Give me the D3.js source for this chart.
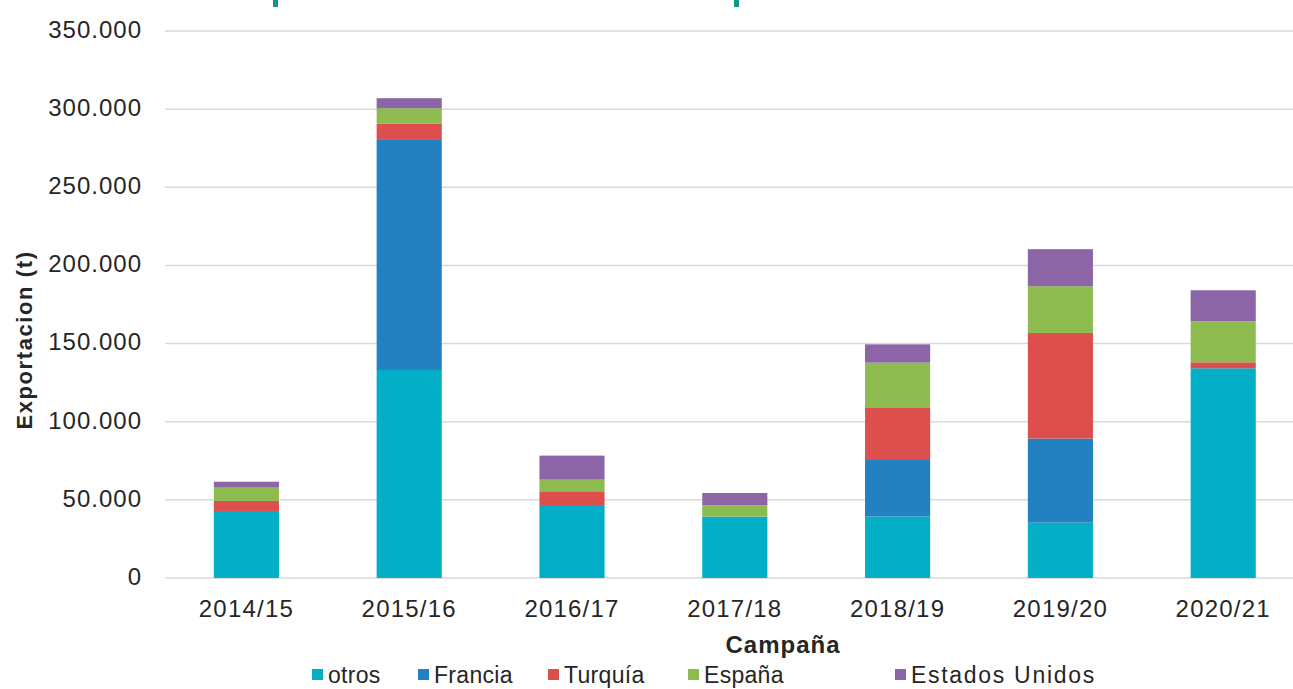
<!DOCTYPE html>
<html>
<head>
<meta charset="utf-8">
<script src="https://cdn.jsdelivr.net/npm/d3@7"></script>
<style>
  html, body { margin: 0; padding: 0; background: #fff; }
  svg { display: block; }
  text { font-family: "Liberation Sans", Arial, sans-serif; fill: #262626; }
</style>
</head>
<body>
<svg id="chart" width="1293" height="689"></svg>
<script>
const categories = ["2014/15", "2015/16", "2016/17", "2017/18", "2018/19", "2019/20", "2020/21"];
const seriesNames = ["otros", "Francia", "Turquía", "España", "Estados Unidos"];
const otros    = [42900, 133100, 46700, 39300, 39300, 35400, 134200];
const francia  = [0, 147700, 0, 0, 36200, 53800, 0];
const turquia  = [6400, 10000, 8800, 0, 33700, 67600, 3800];
const espana   = [8500, 9800, 7400, 7200, 28600, 29900, 26300];
const eeuu     = [3800, 6400, 15400, 7900, 11700, 23700, 19800];
const yTicks = [0, 50000, 100000, 150000, 200000, 250000, 300000, 350000];
const colors = ["#02AFC7", "#2481C1", "#DD4F4C", "#8DBB50", "#8B65A6"];

(function () {
const seriesValues = [otros, francia, turquia, espana, eeuu];
const rows = categories.map((c, i) => {
  const r = { cat: c };
  seriesNames.forEach((s, j) => r[s] = seriesValues[j][i]);
  return r;
});

const svg = d3.select("#chart");
const pLeft = 165, pRight = 1304.6, pTop = 31, pBottom = 578;
const FONT = "'Liberation Sans', Arial, sans-serif";

const x = d3.scaleBand().domain(categories).range([pLeft, pRight]).paddingInner(0.6).paddingOuter(0.3);
const y = d3.scaleLinear().domain([0, 350000]).range([pBottom, pTop]);

// decorative teal marks at top
[[273, 5], [734, 5]].forEach(([mx, w]) => {
  svg.append("rect").attr("x", mx).attr("y", 0).attr("width", w).attr("height", 7).attr("fill", "#139586");
});

// gridlines
svg.append("g").selectAll("line").data(yTicks).join("line")
  .attr("x1", pLeft).attr("x2", 1293)
  .attr("y1", d => y(d)).attr("y2", d => y(d))
  .attr("stroke", "#D9D9D9").attr("stroke-width", 1.5);

// y axis labels
const fmt = d => d === 0 ? "0" : d3.format(",")(d).replace(/,/g, ".");
const yAxis = d3.axisLeft(y).tickValues(yTicks).tickFormat(fmt).tickSize(0).tickPadding(0);
const yg = svg.append("g").attr("transform", `translate(142,-2)`).call(yAxis);
yg.select(".domain").remove();
yg.selectAll("text").attr("font-size", 24).attr("fill", "#262626")
  .style("font-family", FONT).attr("letter-spacing", 1).attr("dy", "0.35em");

// x axis labels
const xAxis = d3.axisBottom(x).tickSize(0).tickPadding(0);
const xg = svg.append("g").attr("transform", `translate(0,${pBottom})`).call(xAxis);
xg.select(".domain").remove();
xg.selectAll("text").attr("font-size", 24).attr("fill", "#262626").attr("y", 39).attr("dy", 0)
  .style("font-family", FONT).attr("letter-spacing", 1.2);

// stacked bars
const stacked = d3.stack().keys(seriesNames)(rows);
svg.append("g").selectAll("g").data(stacked).join("g")
  .attr("fill", (d, i) => colors[i])
  .selectAll("rect").data(d => d.filter(p => p[1] - p[0] > 0)).join("rect")
  .attr("x", d => x(d.data.cat))
  .attr("width", x.bandwidth())
  .attr("y", d => y(d[1]))
  .attr("height", d => y(d[0]) - y(d[1]));

// axis titles
svg.append("text").attr("x", 783).attr("y", 653).attr("text-anchor", "middle")
  .attr("font-size", 24).attr("font-weight", "bold").attr("letter-spacing", 1).text("Campaña");
svg.append("text").attr("transform", "translate(32,340) rotate(-90)").attr("text-anchor", "middle")
  .attr("font-size", 22).attr("font-weight", "bold").attr("letter-spacing", 1.6).text("Exportacion (t)");

// legend
const legendX = [312, 418, 548, 688, 895];
const legendSpacing = [0.3, 0.3, 0.3, 0.3, 1.7];
const lg = svg.append("g").selectAll("g").data(seriesNames).join("g")
  .attr("transform", (d, i) => `translate(${legendX[i]},669)`);
lg.append("rect").attr("width", 11).attr("height", 11).attr("fill", (d, i) => colors[i]);
lg.append("text").attr("x", 16).attr("y", 14).attr("font-size", 23)
  .attr("letter-spacing", (d, i) => legendSpacing[i]).text(d => d);
})();
</script>
</body>
</html>
